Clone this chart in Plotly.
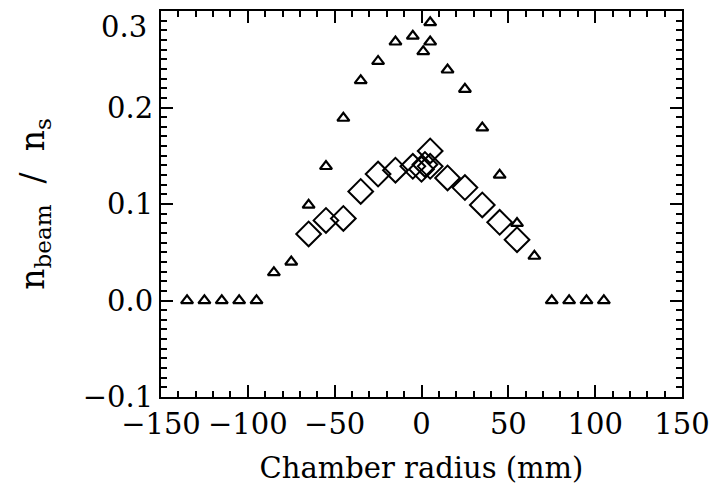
import plotly.graph_objects as go

# Triangles (n_beam / n_s vs chamber radius)
tri_x = [-135, -125, -115, -105, -95, -85, -75, -65, -55, -45, -35, -25, -15, -5, 1, 5, 5,
         15, 25, 35, 45, 55, 65, 75, 85, 95, 105]
tri_y = [0.0, 0.0, 0.0, 0.0, 0.0, 0.029, 0.040, 0.099, 0.139, 0.189, 0.228, 0.248, 0.268, 0.274,
         0.258, 0.268, 0.288, 0.239, 0.219, 0.179, 0.130, 0.080, 0.046, 0.0, 0.0, 0.0, 0.0]

# Diamonds
dia_x = [-65, -55, -45, -35, -25, -15, -5, 0, 2, 5, 5, 15, 25, 35, 45, 55]
dia_y = [0.069, 0.083, 0.085, 0.113, 0.131, 0.135, 0.139, 0.136, 0.141, 0.139, 0.155,
         0.127, 0.117, 0.099, 0.081, 0.063]

x_range = [-150, 150]
y_range = [-0.1, 0.3]
x_major_step = 50
y_ticks = [-0.1, 0.0, 0.1, 0.2, 0.3]
y_labels = ["−0.1", "0.0", "0.1", "0.2", "0.3"]
x_minor_step = 10
y_minor_step = 0.01

fig = go.Figure()
fig.add_trace(go.Scatter(x=tri_x, y=tri_y, mode="markers",
                         marker=dict(symbol="triangle-up-open", size=10.5, color="black",
                                     line=dict(width=2.2, color="black"))))
fig.add_trace(go.Scatter(x=dia_x, y=dia_y, mode="markers",
                         marker=dict(symbol="diamond-open", size=19, color="black",
                                     line=dict(width=2, color="black"))))
# invisible carrier trace for the minor-tick overlay axes
fig.add_trace(go.Scatter(x=x_range, y=y_range, mode="markers", xaxis="x2", yaxis="y2",
                         marker=dict(opacity=0, size=1), hoverinfo="skip"))

font_family = "DejaVu Serif"
fig.update_layout(
    template="simple_white",
    width=714, height=489,
    margin=dict(l=161, r=32, t=11, b=92),
    paper_bgcolor="white", plot_bgcolor="white",
    showlegend=False,
    font=dict(family=font_family, color="black", size=28),
    xaxis=dict(
        range=x_range, automargin=False,
        tickmode="linear", tick0=0, dtick=x_major_step,
        showgrid=False, zeroline=False,
        showline=True, linewidth=2, linecolor="black", mirror="allticks",
        ticks="inside", ticklen=12, tickwidth=2, tickcolor="black",
        tickfont=dict(size=29),
        title=dict(text="Chamber radius (mm)", font=dict(size=29), standoff=18),
    ),
    yaxis=dict(
        range=y_range, automargin=False,
        tickmode="array", tickvals=y_ticks, ticktext=y_labels[:-1] + [""],
        showgrid=False, zeroline=False,
        showline=True, linewidth=2, linecolor="black", mirror="allticks",
        ticks="inside", ticklen=12, tickwidth=2, tickcolor="black",
        tickfont=dict(size=29),
        title=dict(text="n<sub>beam</sub>  /  n<sub>s</sub>", font=dict(size=33), standoff=28),
    ),
    xaxis2=dict(
        overlaying="x", matches="x", range=x_range, automargin=False,
        tickmode="linear", tick0=0, dtick=x_minor_step,
        showticklabels=False, showgrid=False, zeroline=False, showline=False,
        mirror="allticks", ticks="inside", ticklen=6, tickwidth=2, tickcolor="black",
    ),
    yaxis2=dict(
        overlaying="y", matches="y", range=y_range, automargin=False,
        tickmode="linear", tick0=0, dtick=y_minor_step,
        showticklabels=False, showgrid=False, zeroline=False, showline=False,
        mirror="allticks", ticks="inside", ticklen=6, tickwidth=2, tickcolor="black",
    ),
)

# Top y label (shifted inside the page as in the reference)
fig.add_annotation(x=0, xref="paper", y=y_ticks[-1], yref="y", text=y_labels[-1],
                   xanchor="right", yanchor="top", xshift=-12, yshift=3,
                   showarrow=False, font=dict(size=29, family=font_family, color="black"))

fig.write_html("out.html")
